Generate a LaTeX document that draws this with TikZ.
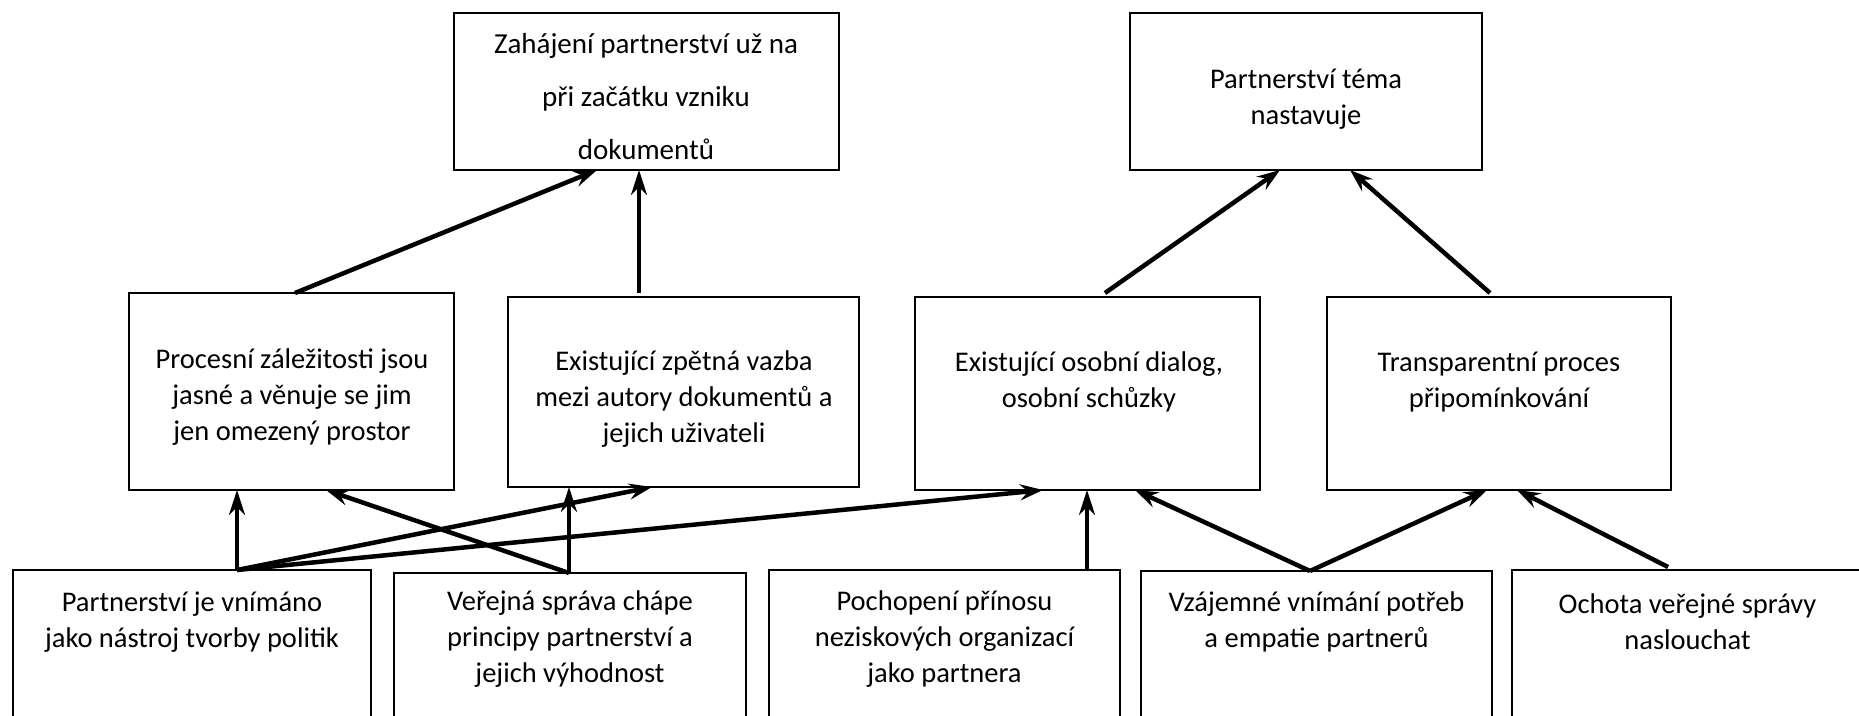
\documentclass[tikz,border=0pt]{standalone}
\usepackage{fontspec}
\setmainfont{Carlito}
\usetikzlibrary{arrows.meta,calc}
\tikzset{
  box/.style={draw=black, line width=2pt, rectangle, outer sep=0pt, inner sep=0pt},
  txt/.style={align=center, inner sep=0pt, font=\fontsize{28.5}{36}\selectfont},
  conn/.style={line width=4.5pt, -{Stealth[length=23pt,width=16pt,inset=8pt]}},
  vconn/.style={line width=3.8pt, -{Stealth[length=25pt,width=16pt,inset=8pt]}}
}
\begin{document}
\begin{tikzpicture}[x=1pt,y=-1pt]
\useasboundingbox (0,0) rectangle (1859,715);
\clip (0,0) rectangle (1859,715);
\fill[white] (0,0) rectangle (1859,715);
% boxes
\node[box, minimum width=385, minimum height=157] (zah) at (646.5,91.5) {};
\node[box, minimum width=352, minimum height=157] (tema) at (1306,91.5) {};
\node[box, minimum width=325, minimum height=197] (proc) at (291.5,391.5) {};
\node[box, minimum width=351, minimum height=190] (zpet) at (683.5,392) {};
\node[box, minimum width=345, minimum height=193] (osob) at (1087.5,393.5) {};
\node[box, minimum width=344, minimum height=193] (trans) at (1499,393.5) {};
\node[box, minimum width=358, minimum height=200] (b1) at (192,670) {};
\node[box, minimum width=352, minimum height=200] (b2) at (570,673) {};
\node[box, minimum width=351, minimum height=200] (b3) at (944.5,670) {};
\node[box, minimum width=351, minimum height=200] (b4) at (1316.5,671) {};
\node[box, minimum width=351, minimum height=200] (b5) at (1687.5,670) {};
% texts
\node[txt, font=\fontsize{29}{53}\selectfont] (tzah) at (646,97) {Zahájení partnerství už na\\při začátku vzniku\\dokumentů};
\node[txt] (ttema) at (1306,99) {Partnerství téma\\nastavuje};
\node[txt] (tproc) at (292,397) {Procesní záležitosti jsou\\jasné a věnuje se jim\\jen omezený prostor};
\node[txt] (tzpet) at (684,399) {Existující zpětná vazba\\mezi autory dokumentů a\\jejich uživateli};
\node[txt] (tosob) at (1089,382) {Existující osobní dialog,\\osobní schůzky};
\node[txt] (ttrans) at (1499,382) {Transparentní proces\\připomínkování};
\node[txt] (tb1) at (192,622) {Partnerství je vnímáno\\jako nástroj tvorby politik};
\node[txt] (tb2) at (570,639) {Veřejná správa chápe\\principy partnerství a\\jejich výhodnost};
\node[txt] (tb3) at (944.5,639) {Pochopení přínosu\\neziskových organizací\\jako partnera};
\node[txt] (tb4) at (1316.5,622) {Vzájemné vnímání potřeb\\a empatie partnerů};
\node[txt] (tb5) at (1687.5,622) {Ochota veřejné správy\\naslouchat};
% connectors upper
\draw[conn] ($(proc.north west)+(166,0)$) -- ($(zah.south west)+(143,0)$);
\draw[vconn] ($(zpet.north west)+(131,-4)$) -- ($(zah.south west)+(185,0)$);
\draw[conn] ($(osob.north west)+(190,-4)$) -- ($(tema.south west)+(150,0)$);
\draw[conn] ($(trans.north west)+(163,-4)$) -- ($(tema.south west)+(220,0)$);
% connectors lower
\coordinate (p1) at ($(b1.north west)+(224,0)$);
\coordinate (p2) at ($(b2.north west)+(175,0)$);
\coordinate (p4) at ($(b4.north west)+(169,0)$);
\draw[vconn] (p1) -- ($(proc.south west)+(108,0)$);
\draw[conn] (p1) -- ($(zpet.south west)+(144,0)$);
\draw[conn] (p1) -- ($(osob.south west)+(128,0)$);
\draw[vconn] (p2) -- ($(zpet.south west)+(61,0)$);
\draw[conn] (p2) -- ($(proc.south west)+(197,0)$);
\draw[vconn] ($(b3.north west)+(318,0)$) -- ($(osob.south west)+(172,0)$);
\draw[conn] (p4) -- ($(osob.south west)+(220,0)$);
\draw[conn] (p4) -- ($(trans.south west)+(160,0)$);
\draw[conn] ($(b5.north west)+(156,-3)$) -- ($(trans.south west)+(190,0)$);
\end{tikzpicture}
\end{document}
